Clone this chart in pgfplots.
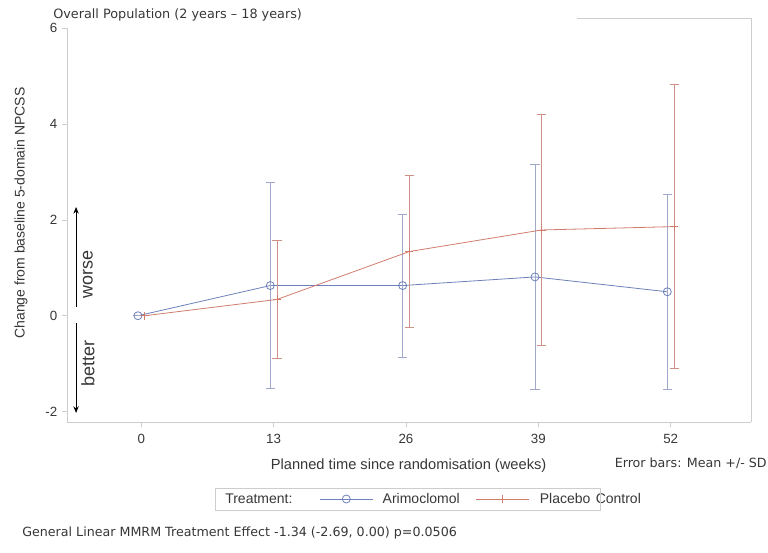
\documentclass[border=0pt]{standalone}
\usepackage{pgfplots}
\pgfplotsset{compat=1.18}
\usepackage{fontspec}
\setmainfont{Liberation Sans}
\newfontfamily\verd{DejaVu Sans}
\usetikzlibrary{arrows.meta}
\definecolor{armline}{RGB}{110,128,185}
\definecolor{armerr}{RGB}{160,168,205}
\definecolor{plaline}{RGB}{208,125,110}
\definecolor{plaerr}{RGB}{205,145,135}
\definecolor{axisgray}{RGB}{205,205,205}
\definecolor{txt}{RGB}{55,55,55}
\begin{document}
\begin{tikzpicture}[x=0.75pt,y=0.75pt]
\useasboundingbox (0,0) rectangle (768,553);
\begin{axis}[
  at={(50.25pt,98.25pt)}, anchor=south west,
  scale only axis, width=513pt, height=295.3pt,
  xmin=-7.30, xmax=59.89, ymin=-2.218, ymax=6,
  axis x line*=bottom, axis y line*=left,
  axis line style={draw=axisgray, line width=0.6pt},
  xtick={0,13,26,39,52}, ytick={-2,0,2,4,6},
  tick align=outside, major tick length=3.75pt,
  tick style={draw=axisgray, line width=0.6pt},
  /pgf/number format/assume math mode=true,
  ticklabel style={font=\fontsize{10}{12}\selectfont, text=txt},
  xticklabel style={yshift=-2pt},
  clip=false,
  legend columns=2,
  legend style={draw=none, fill=none, inner sep=0pt, at={(0.3684,-0.1956)}, anchor=west,
    nodes={inner sep=0pt, font=\fontsize{10.5}{12}\selectfont, text=txt},
    /tikz/every even column/.append style={column sep=12pt}},
  legend image code/.code={\draw[#1, mark repeat=2, mark phase=2] plot coordinates {(0pt,0pt) (20pt,0pt) (40pt,0pt)};},
]
\addplot+[armline, line width=0.6pt, mark=o, mark size=3pt, mark options={armline, line width=0.6pt},
  error bars/.cd, y dir=both, y explicit,
  error bar style={armerr, line width=0.6pt},
  error mark options={armerr, line width=0.6pt, mark size=3.4pt, rotate=90}]
  coordinates {
  (-0.33,0) +- (0,0)
  (12.67,0.63) +- (0,2.15)
  (25.67,0.63) +- (0,1.49)
  (38.67,0.81) +- (0,2.35)
  (51.67,0.50) +- (0,2.04)
  };
\addlegendentry{\hspace{7pt}Arimoclomol}
\addplot+[plaline, line width=0.6pt, mark=+, mark size=3pt, mark options={plaline, line width=0.6pt},
  error bars/.cd, y dir=both, y explicit,
  error bar style={plaerr, line width=0.6pt},
  error mark options={plaerr, line width=0.6pt, mark size=3.4pt, rotate=90}]
  coordinates {
  (0.33,0) +- (0,0)
  (13.33,0.34) +- (0,1.23)
  (26.33,1.34) +- (0,1.58)
  (39.33,1.79) +- (0,2.41)
  (52.33,1.86) +- (0,2.96)
  };
\addlegendentry{\hspace{7.5pt}Placebo\hspace{4pt}Control}
\draw[line width=0.8pt, -{Stealth[length=5pt,width=4pt]}] (axis cs:-6.41,0.18) -- (axis cs:-6.41,2.27);
\draw[line width=0.8pt, -{Stealth[length=5pt,width=4pt]}] (axis cs:-6.41,-0.15) -- (axis cs:-6.41,-2.03);
\node[rotate=90, font=\fontsize{13.5}{15}\selectfont, text=txt, inner sep=0pt] at (axis cs:-5.24,0.87) {worse};
\node[rotate=90, font=\fontsize{13.5}{15}\selectfont, text=txt, inner sep=0pt] at (axis cs:-5.24,-0.99) {better};
\end{axis}
% partial frame (right and top)
\draw[axisgray, line width=0.6pt] (751,131) -- (751,535) -- (577,535);
% texts
\node[anchor=west, inner sep=0pt, font=\verd\fontsize{9.6}{11}\selectfont, text=txt] at (53,538) {Overall Population (2 years – 18 years)};
\node[rotate=90, inner sep=0pt, font=\fontsize{10.5}{12}\selectfont, text=txt] at (21,340) {Change from baseline 5-domain NPCSS};
\node[inner sep=0pt, font=\fontsize{11}{13}\selectfont, text=txt] at (408.6,87) {Planned time since randomisation (weeks)};
\node[anchor=east, inner sep=0pt, font=\verd\fontsize{9.5}{11}\selectfont, text=txt] at (767,90) {Error bars: Mean +/- SD};
\node[anchor=west, inner sep=0pt, font=\verd\fontsize{9.5}{11}\selectfont, text=txt] at (22,20) {General Linear MMRM Treatment Effect -1.34 (-2.69, 0.00) p=0.0506};
\node[anchor=west, inner sep=0pt, font=\fontsize{10.5}{12}\selectfont, text=txt] at (225,54) {Treatment:};
\draw[axisgray, line width=0.6pt] (215,43) rectangle (600,65);
\end{tikzpicture}
\end{document}
